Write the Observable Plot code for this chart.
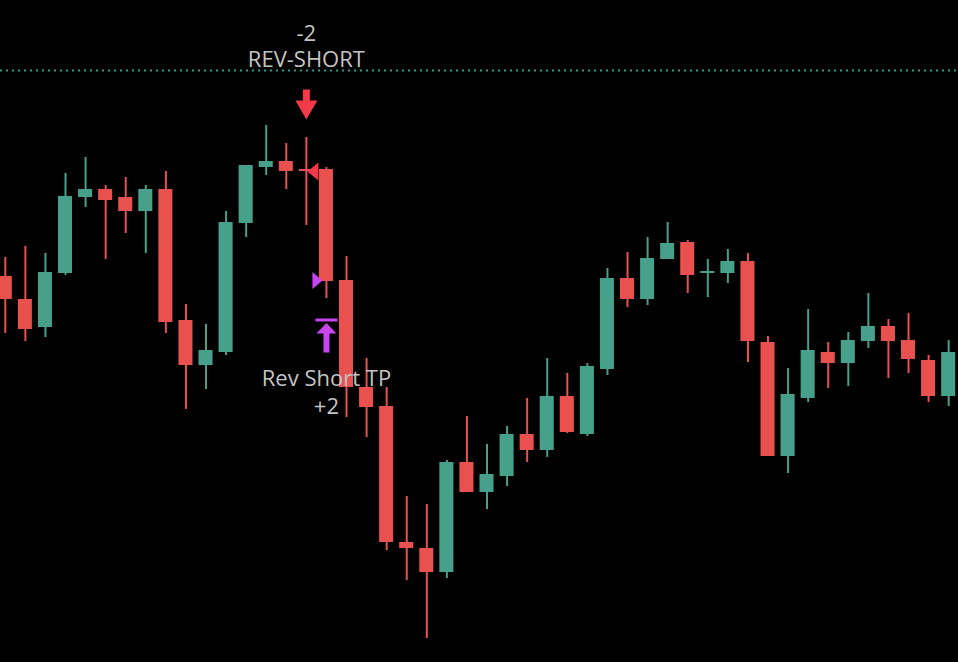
<!DOCTYPE html>
<html><head><meta charset="utf-8">
<script src="https://cdn.jsdelivr.net/npm/d3@7"></script>
<script src="https://cdn.jsdelivr.net/npm/@observablehq/plot@0.6"></script>
<style>html,body{margin:0;padding:0;background:#000;overflow:hidden}</style>
</head><body><div id="chart"></div>
<script>
// OHLC series (price units), one entry per bar
const opens  = [386,363,335,389,465,473,465,451,473,342,297,310,439,495,501,493,493,382,275,256,120,114,90,200,170,186,228,212,266,228,293,384,363,403,420,389,389,401,320,206,264,310,299,321,336,322,302,266];
const highs  = [405,416,409,489,505,477,485,477,491,358,338,451,497,537,519,525,495,406,304,275,166,158,202,246,218,236,264,304,289,299,394,410,425,440,422,403,413,409,326,294,353,320,330,369,343,349,307,322];
const lows   = [329,321,325,387,455,403,429,409,329,253,273,307,425,487,473,437,364,245,225,112,82,24,84,170,153,176,200,205,229,226,287,355,357,403,369,365,379,300,206,189,260,274,276,314,284,289,260,256];
const closes = [363,333,390,466,473,462,451,473,340,297,312,440,497,501,491,491,381,275,255,120,114,90,200,170,188,228,212,266,230,296,384,363,404,419,387,391,401,321,206,268,312,299,322,336,321,303,266,310];

// strategy markers
const markerBar   = [15, 15, 16, 16];
const markerPrice = [558, 491, 382, 327];
const markerKind  = ["shortSignal", "entry", "exit", "takeProfit"];

// labels
const labelBar   = [15, 16];
const labelPrice = [596, 249];
const labelText  = ["-2\nREV-SHORT", "Rev Short TP\n+2"];

// reference level (dotted)
const refLevel = [592];

const bars = opens.map((o, i) => ({i, open: o, high: highs[i], low: lows[i], close: closes[i]}));
const markers = markerBar.map((b, k) => ({i: b, price: markerPrice[k], kind: markerKind[k]}));
const labels = labelBar.map((b, k) => ({i: b, price: labelPrice[k], text: labelText[k]}));

const GREEN = "#47a08a", RED = "#e8514e";
const col = d => d.close >= d.open ? GREEN : RED;

const symbols = {
  shortSignal: {draw(c) { c.rect(-3.5, -15, 7, 11); c.moveTo(-11, -4); c.lineTo(11, -4); c.lineTo(0, 15); c.closePath(); }},
  entry:       {draw(c) { c.moveTo(1, 0); c.lineTo(12, -9); c.lineTo(12, 9); c.closePath(); }},
  exit:        {draw(c) { c.moveTo(-4, 0); c.lineTo(-14, -8.5); c.lineTo(-14, 8.5); c.closePath(); }},
  takeProfit:  {draw(c) { c.rect(-11, -17, 22, 3); c.moveTo(0, -12.5); c.lineTo(10, -2); c.lineTo(-10, -2); c.closePath(); c.rect(-3, -2.5, 6, 19.5); }}
};
const symbolFill = {shortSignal: "#f23a48", entry: "#f23a48", exit: "#c845f2", takeProfit: "#c845f2"};

const dotMarks = Object.keys(symbols).map(k =>
  Plot.dot(markers.filter(m => m.kind === k), {x: "i", y: "price", symbol: symbols[k], fill: symbolFill[k], stroke: "none"})
);

const chart = Plot.plot({
  width: 958, height: 662,
  marginTop: 0, marginRight: 0, marginBottom: 0, marginLeft: 0,
  style: {background: "#000", fontFamily: "'Open Sans', sans-serif", overflow: "hidden"},
  x: {type: "linear", domain: [-0.239, 47.49], range: [0, 958], axis: null},
  y: {type: "linear", domain: [0, 662], range: [662, 0], axis: null},
  marks: [
    Plot.ruleY(refLevel, {y: d => d, stroke: "#2b9c87", strokeWidth: 2, strokeDasharray: "2 4"}),
    Plot.ruleX(bars, {x: "i", y1: "low", y2: "high", stroke: col, strokeWidth: 2}),
    Plot.rect(bars, {x1: d => d.i - 0.35, x2: d => d.i + 0.35, y1: "open", y2: "close", fill: col}),
    ...dotMarks,
    Plot.text(labels.slice(0, 1), {x: "i", y: "price", text: "text", lineAnchor: "bottom", lineHeight: 1.18, fontSize: 22, fill: "#c4c4c4"}),
    Plot.text(labels.slice(1), {x: "i", y: "price", text: "text", lineAnchor: "bottom", lineHeight: 1.27, fontSize: 22, fill: "#c4c4c4"})
  ]
});
document.getElementById("chart").appendChild(chart);
</script>
</body></html>
